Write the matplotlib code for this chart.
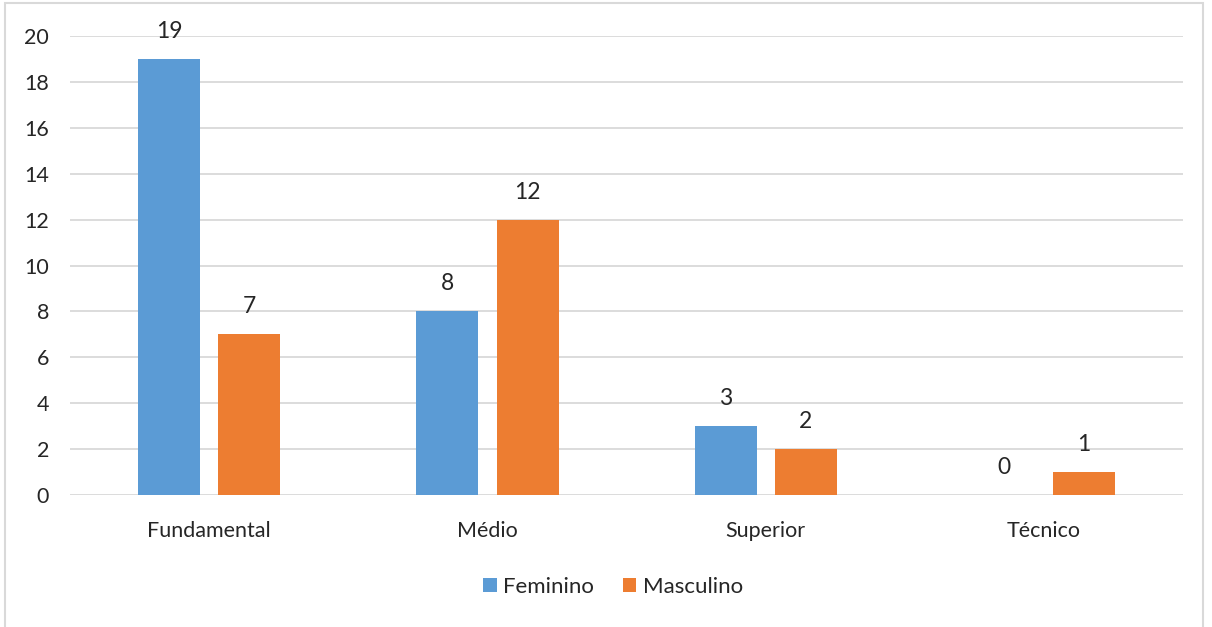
import matplotlib
matplotlib.use("Agg")
import matplotlib.pyplot as plt
import numpy as np
from matplotlib.patches import Rectangle

plt.rcParams["font.family"] = ["Lato", "DejaVu Sans"]

categories = ["Fundamental", "Médio", "Superior", "Técnico"]
feminino = [19, 8, 3, 0]
masculino = [7, 12, 2, 1]
y_ticks = [0, 2, 4, 6, 8, 10, 12, 14, 16, 18, 20]

BLUE = "#5B9BD5"
ORANGE = "#ED7D31"
GRID = "#D9D9D9"

fig = plt.figure(figsize=(12.12, 6.27), dpi=100, facecolor="white")
ax = fig.add_axes([0.0578, 0.2105, 0.9185, 0.7321])

x = np.arange(len(categories))
w = 0.223
off = 0.144
b1 = ax.bar(x - off, feminino, w, color=BLUE, label="Feminino", zorder=3)
b2 = ax.bar(x + off, masculino, w, color=ORANGE, label="Masculino", zorder=3)

for bars, vals in ((b1, feminino), (b2, masculino)):
    for rect, v in zip(bars, vals):
        ax.text(rect.get_x() + rect.get_width() / 2, v + 1.2, str(v),
                ha="center", va="center", fontsize=16.5, color="#262626")

ax.set_xlim(-0.5, len(categories) - 0.5)
ax.set_ylim(0, 20)
ax.set_yticks(y_ticks)
ax.set_xticks(x)
ax.set_xticklabels(categories)
ax.tick_params(axis="both", length=0, labelsize=15.5, labelcolor="#262626")
ax.tick_params(axis="y", pad=15)
ax.tick_params(axis="x", pad=19)
ax.grid(axis="y", color=GRID, linewidth=1.3, zorder=0)
for s in ax.spines.values():
    s.set_visible(False)

leg = fig.legend(handles=[b1, b2], loc="center", bbox_to_anchor=(0.506, 0.064),
                 ncol=2, frameon=False, fontsize=16, handlelength=0.6,
                 handleheight=0.6, handletextpad=0.3, columnspacing=1.3)
for t in leg.get_texts():
    t.set_color("#262626")

# thin outer frame around the chart area (open at the bottom)
fig.patches.append(Rectangle((5 / 1212, -0.05), 1198 / 1212, 1.05 - 3 / 627,
                             transform=fig.transFigure, fill=False,
                             edgecolor="#D9D9D9", linewidth=1.5))

fig.savefig("out.png", dpi=100, facecolor="white")
plt.close(fig)
